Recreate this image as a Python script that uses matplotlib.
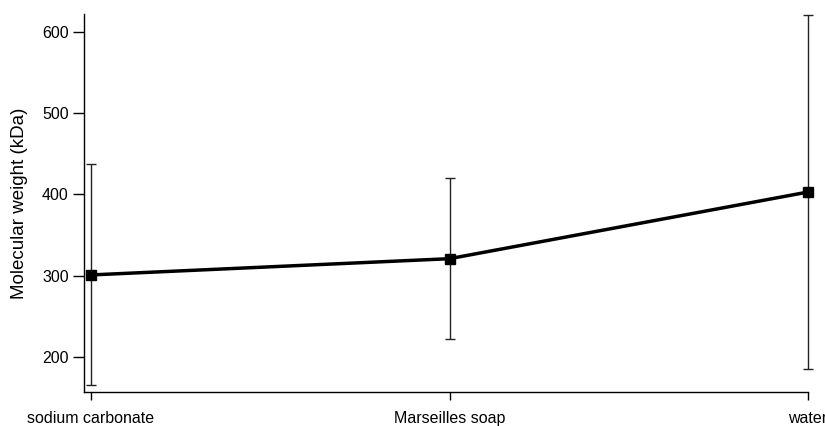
import matplotlib.pyplot as plt

plt.rcParams['font.family'] = ['Liberation Sans', 'DejaVu Sans']

# molecular weight after each washing treatment
treatments = ["sodium carbonate", "Marseilles soap", "water"]
mw_kda = [301, 321, 403]
mw_err = [136, 99, 218]
yticks = [200, 300, 400, 500, 600]

fig = plt.figure(figsize=(8.25, 4.26), dpi=100)
ax = fig.add_axes([84 / 825, 1 - 392 / 426, (808 - 84) / 825, (392 - 14) / 426])

x = list(range(len(treatments)))
eb = ax.errorbar(x, mw_kda, yerr=mw_err, fmt='none', ecolor='#222222',
                 elinewidth=1.0, capsize=3.5, capthick=1.0, zorder=2)
for artist in eb.lines[1] + eb.lines[2]:
    artist.set_clip_on(False)
ax.plot(x, mw_kda, color='black', lw=2.5, marker='s', markersize=7,
        zorder=3, clip_on=False)

ax.set_xlim(-7 / 358, 2)
ax.set_ylim(157, 622)
ax.set_xticks(x)
ax.set_xticklabels(treatments, fontsize=11.5)
ax.set_yticks(yticks)
ax.tick_params(axis='y', length=8, width=1, labelsize=11.5, pad=3)
ax.tick_params(axis='x', length=6, width=1, pad=8)
ax.set_ylabel("Molecular weight (kDa)", fontsize=13.5, labelpad=10)

for s in ['top', 'right']:
    ax.spines[s].set_visible(False)
for s in ['left', 'bottom']:
    ax.spines[s].set_linewidth(1.0)

fig.savefig("out.png", dpi=100)
